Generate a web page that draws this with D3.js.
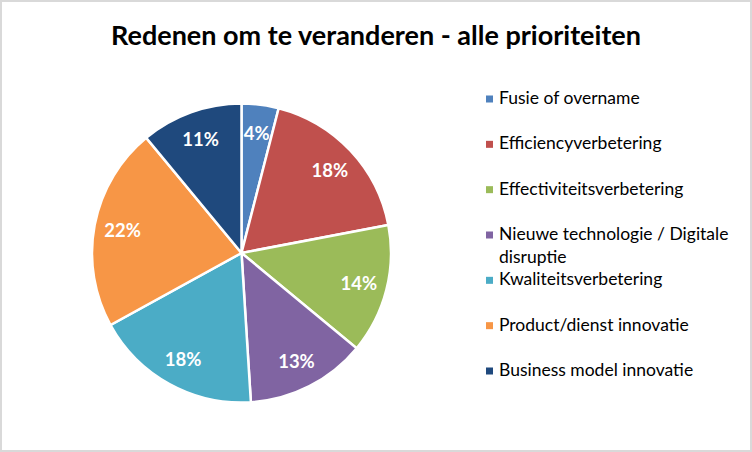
<!DOCTYPE html>
<html><head><meta charset="utf-8">
<script src="https://cdn.jsdelivr.net/npm/d3@7"></script>
<style>body{margin:0;background:#fff}svg{display:block}</style>
</head><body>
<svg id="c" width="752" height="452"></svg>
<script>
const categories = ["Fusie of overname","Efficiencyverbetering","Effectiviteitsverbetering","Nieuwe technologie / Digitale disruptie","Kwaliteitsverbetering","Product/dienst innovatie","Business model innovatie"];
const legendLines = [["Fusie of overname"],["Efficiencyverbetering"],["Effectiviteitsverbetering"],["Nieuwe technologie / Digitale","disruptie"],["Kwaliteitsverbetering"],["Product/dienst innovatie"],["Business model innovatie"]];
const values = [4,18,14,13,18,22,11];
const colors = ["#4F81BD","#C0504D","#9BBB59","#8064A2","#4BACC6","#F79646","#1F497D"];
const title = "Redenen om te veranderen - alle prioriteiten";

const svg = d3.select("#c");
const font = "Lato, 'Open Sans', sans-serif";
svg.append("rect").attr("x",1).attr("y",1).attr("width",750).attr("height",450)
  .attr("fill","#fff").attr("stroke","#d9d9d9").attr("stroke-width",2);

svg.append("text").attr("x",376).attr("y",45).attr("text-anchor","middle")
  .attr("font-family",font).attr("font-weight","bold").attr("font-size",27)
  .attr("fill","#000").text(title);

const cx=241.5, cy=253, r=149.5;
const pie = d3.pie().sort(null).value(d=>d);
const arcs = pie(values);
const arc = d3.arc().innerRadius(0).outerRadius(r);
const labelArc = d3.arc().innerRadius(r*0.81).outerRadius(r*0.81);
const g = svg.append("g").attr("transform",`translate(${cx},${cy})`);
g.selectAll("path").data(arcs).join("path").attr("d",arc)
  .attr("fill",(d,i)=>colors[i]).attr("stroke","#fff").attr("stroke-width",2.5);
g.selectAll("text").data(arcs).join("text")
  .attr("transform",d=>`translate(${labelArc.centroid(d)})`)
  .attr("text-anchor","middle").attr("dy","0.36em")
  .attr("font-family",font).attr("font-weight","bold").attr("font-size",18.5)
  .attr("fill","#fff").text(d=>d.data+"%");

const ly = d3.scaleLinear().domain([0,6]).range([99,371]);
const leg = svg.append("g");
categories.forEach((c,i)=>{
  const y = ly(i);
  leg.append("rect").attr("x",486).attr("y",y-3.5).attr("width",7).attr("height",7).attr("fill",colors[i]);
  const t = leg.append("text").attr("x",499).attr("y",y+5)
    .attr("font-family",font).attr("font-size",17.5).attr("fill","#000");
  legendLines[i].forEach((ln,j)=>{
    t.append("tspan").attr("x",499).attr("dy", j===0? 0 : 22.6).text(ln);
  });
});
</script>
</body></html>
